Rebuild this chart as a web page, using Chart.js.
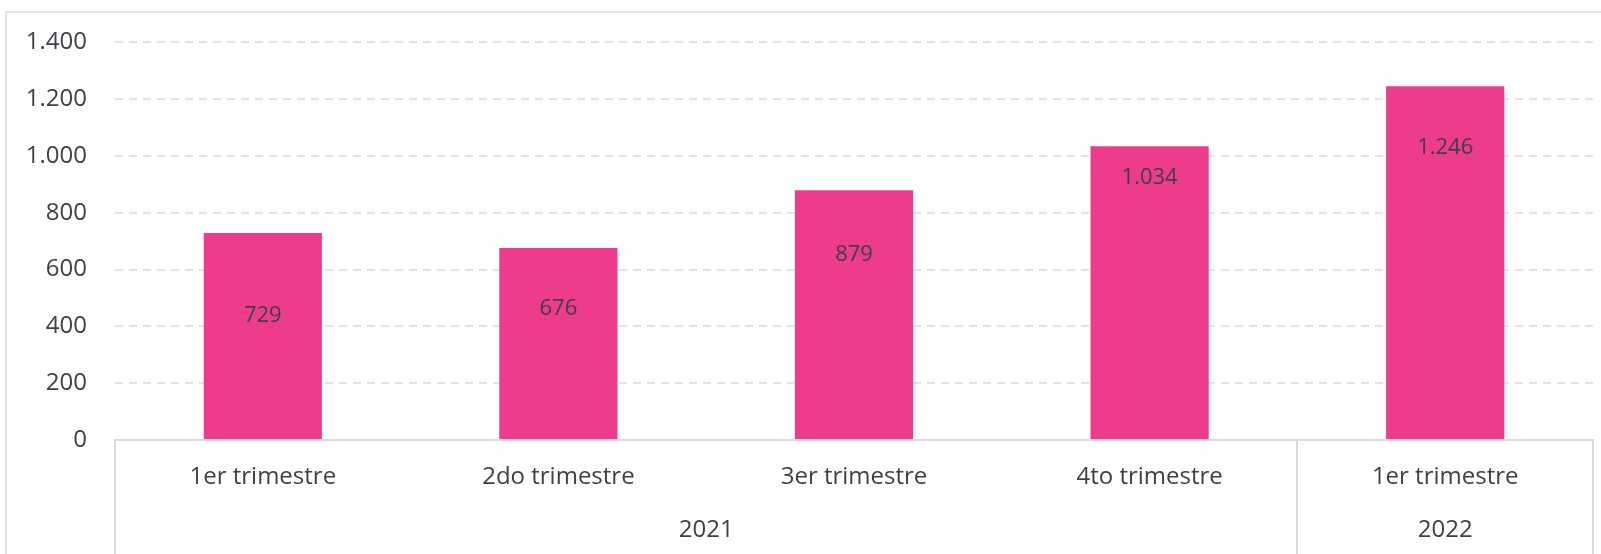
<!DOCTYPE html>
<html lang="es">
<head>
<meta charset="utf-8">
<title>Trimestres 2021–2022</title>
<script src="https://cdn.jsdelivr.net/npm/chart.js@4/dist/chart.umd.min.js"></script>
<style>
  html, body { margin: 0; padding: 0; background: #ffffff; }
  canvas { display: block; }
</style>
</head>
<body>
<canvas id="chart" width="1601" height="554"></canvas>
<script>
// Quarter labels, one per bar
const quarterLabels = ['1er trimestre', '2do trimestre', '3er trimestre', '4to trimestre', '1er trimestre'];
// Values for each quarter
const quarterValues = [729, 676, 879, 1034, 1246];
// Year groups under the quarter labels and how many quarters each covers
const yearLabels = ['2021', '2022'];
const yearSpans = [4, 1];
// Value axis ticks
const yTickMin = 0;
const yTickMax = 1400;
const yTickStep = 200;

// Vertical placement of each value label, in px below the top of its bar
const valueLabelDrop = [83, 61, 64, 31, 62];

const FONT = "'Open Sans', 'Noto Sans', sans-serif";
const TEXT = '#3f3f4a';
const LINE = '#dadada';

// Thousands separator as a dot
function fmt(v) {
  return String(v).replace(/\B(?=(\d{3})+(?!\d))/g, '.');
}

// Light frame along the top and left edge of the chart box
const framePlugin = {
  id: 'frame',
  beforeDraw(chart) {
    const c = chart.ctx;
    c.save();
    c.strokeStyle = '#e2e2e2';
    c.lineWidth = 2;
    c.beginPath();
    c.moveTo(6, chart.height);
    c.lineTo(6, 12);
    c.lineTo(chart.width, 12);
    c.stroke();
    c.restore();
  }
};

// Value labels placed inside the bars
const valueLabelPlugin = {
  id: 'valueLabels',
  afterDatasetsDraw(chart) {
    const c = chart.ctx;
    const meta = chart.getDatasetMeta(0);
    c.save();
    c.font = '22px ' + FONT;
    c.fillStyle = TEXT;
    c.textAlign = 'center';
    c.textBaseline = 'middle';
    meta.data.forEach((bar, i) => {
      const v = chart.data.datasets[0].data[i];
      c.fillText(fmt(v), bar.x, bar.y + valueLabelDrop[i]);
    });
    c.restore();
  }
};

// Year grouping below the quarter labels, with separator lines
const yearGroupPlugin = {
  id: 'yearGroups',
  afterDraw(chart) {
    const x = chart.scales.x;
    const c = chart.ctx;
    const top = x.top;
    const bottom = chart.height;
    const n = quarterLabels.length;
    const step = (x.right - x.left) / n;
    c.save();
    c.strokeStyle = LINE;
    c.lineWidth = 2;
    c.font = '24px ' + FONT;
    c.fillStyle = TEXT;
    c.textAlign = 'center';
    c.textBaseline = 'middle';
    let start = 0;
    const edges = [x.getPixelForValue(0) - step / 2];
    yearLabels.forEach((label, g) => {
      const end = start + yearSpans[g] - 1;
      const left = x.getPixelForValue(start) - step / 2;
      const right = x.getPixelForValue(end) + step / 2;
      edges.push(right);
      c.fillText(label, (left + right) / 2, 530);
      start = end + 1;
    });
    edges.forEach(px => {
      const p = Math.round(px);
      c.beginPath();
      c.moveTo(p, top);
      c.lineTo(p, bottom);
      c.stroke();
    });
    c.restore();
  }
};

new Chart(document.getElementById('chart'), {
  type: 'bar',
  data: {
    labels: quarterLabels,
    datasets: [{
      data: quarterValues,
      backgroundColor: '#EE3C8C',
      borderWidth: 0,
      categoryPercentage: 1,
      barPercentage: 0.4
    }]
  },
  options: {
    responsive: false,
    animation: false,
    devicePixelRatio: 1,
    layout: { padding: { top: 42, right: 8, left: 0, bottom: 0 } },
    plugins: {
      legend: { display: false },
      tooltip: { enabled: false }
    },
    scales: {
      x: {
        grid: { display: false, drawTicks: false },
        border: { display: true, color: LINE, width: 2 },
        ticks: {
          font: { family: FONT, size: 24 },
          color: TEXT,
          padding: 23,
          maxRotation: 0,
          autoSkip: false
        },
        afterFit(scale) { scale.height = 114; }
      },
      y: {
        min: yTickMin,
        max: yTickMax,
        ticks: {
          stepSize: yTickStep,
          callback: v => fmt(v),
          font: { family: FONT, size: 24 },
          color: TEXT,
          padding: 28
        },
        grid: {
          drawTicks: false,
          lineWidth: 2,
          color: ctx => (ctx.tick && ctx.tick.value === 0) ? 'rgba(0,0,0,0)' : '#e3e3e3'
        },
        border: { display: false, dash: [8, 6] },
        afterFit(scale) { scale.width = 115; }
      }
    }
  },
  plugins: [framePlugin, valueLabelPlugin, yearGroupPlugin]
});
</script>
</body>
</html>
